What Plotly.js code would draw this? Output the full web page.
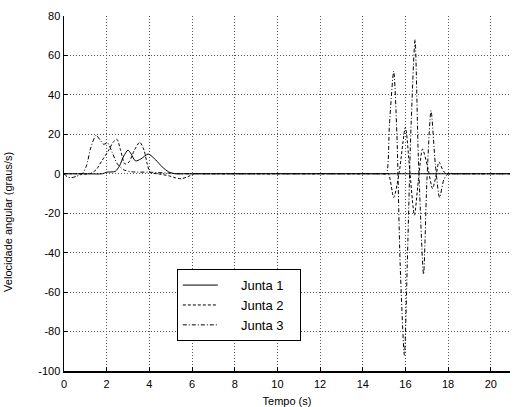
<!DOCTYPE html>
<html>
<head>
<meta charset="utf-8">
<script src="https://cdn.plot.ly/plotly-3.0.1.min.js"></script>
<style>html,body{margin:0;padding:0;background:#fff;}#chart{width:513px;height:407px;}</style>
</head>
<body>
<div id="chart"></div>
<script>
// Junta 1 (solid)
const t1 = [0, 1.0, 1.8, 2.0, 2.4, 2.6, 2.8, 3.0, 3.15, 3.35, 3.6, 3.95, 4.3, 4.6, 4.9, 5.2, 5.6, 8, 12, 16, 20.9];
const v1 = [0, 0, 0, 0.8, 1.2, 4, 9, 12, 10, 6.5, 7.5, 10, 7, 3.5, 1, 0, 0, 0, 0, 0, 0];
// Junta 2 (dashed)
const t2 = [0, 0.6, 1.2, 1.5, 1.8, 2.1, 2.3, 2.48, 2.65, 2.85, 3.05, 3.3, 3.55, 3.75, 3.9, 4.05, 4.4, 4.9, 5.2, 5.5, 5.8, 6.1, 6.5, 8, 12, 14.5,
            15.0, 15.2, 15.45, 15.7, 16.0, 16.2, 16.42, 16.6, 16.8, 17.05, 17.27, 17.45, 17.57, 17.8, 18.0, 18.4, 19.5, 20.9];
const v2 = [0, 0, 0, 2, 7, 12, 16, 17.5, 12, 5, 6, 12, 16, 12, 5, 0.5, 0, -1, -2, -2.5, -1.5, 0, 0, 0, 0, 0,
            0, 0, -12, 0, 23.5, 2, -21, -4, 12.5, 3, -7.5, 0, 6, 1, 0, 0, 0, 0];
// Junta 3 (dash-dot)
const t3 = [0, 0.15, 0.35, 0.6, 0.85, 1.05, 1.25, 1.5, 1.7, 1.85, 2.05, 2.25, 2.5, 2.8, 3.2, 4.0, 5.0, 5.5, 6.0, 8, 12, 14.5,
            14.9, 15.1, 15.25, 15.45, 15.6, 15.75, 15.95, 16.1, 16.25, 16.45, 16.6, 16.85, 17.0, 17.2, 17.4, 17.6, 17.8, 18.0, 18.4, 19.5, 20.9];
const v3 = [0, -1.5, -2, -1.2, 0, 4, 13, 19.5, 17, 15, 15.5, 11, 5, 2, 1, 0.8, 0.3, 0, 0, 0, 0, 0,
            0, 0, 25, 52, 20, -45, -92, -40, 20, 68, 10, -51, -5, 32, 5, -12, -3, 0, 0, 0, 0];

const names = ['Junta 1', 'Junta 2', 'Junta 3'];
const xTicks = [0, 2, 4, 6, 8, 10, 12, 14, 16, 18, 20];
const yTicks = [80, 60, 40, 20, 0, -20, -40, -60, -80, -100];

const pad = '\u00a0\u00a0\u00a0\u00a0\u00a0';
const tail = '\u00a0\u00a0\u00a0';
const font = 'Arial, "Liberation Sans", sans-serif';

const traces = [
  {x: t1, y: v1, name: pad + names[0] + tail, line: {color: '#000', width: 1, dash: 'solid', shape: 'spline', smoothing: 0.7}},
  {x: t2, y: v2, name: pad + names[1] + tail, line: {color: '#000', width: 1, dash: '3px,2px', shape: 'spline', smoothing: 0.7}},
  {x: t3, y: v3, name: pad + names[2] + tail, line: {color: '#000', width: 1, dash: '4px,2px,1px,2px', shape: 'spline', smoothing: 0.7}}
].map(t => Object.assign({type: 'scatter', mode: 'lines'}, t));

const layout = {
  width: 513, height: 407,
  margin: {l: 64, r: 3, t: 16, b: 36},
  paper_bgcolor: '#fff', plot_bgcolor: '#fff',
  font: {family: font, size: 11, color: '#000'},
  showlegend: true,
  legend: {x: 0.253, y: 0.287, xanchor: 'left', yanchor: 'top', bgcolor: '#fff',
           bordercolor: '#000', borderwidth: 1, font: {size: 13, family: font}, itemwidth: 35,
           tracegroupgap: 0},
  xaxis: {range: [0, 20.9], tickvals: xTicks, ticktext: xTicks.map(String), ticks: 'inside', ticklen: 4,
          tickcolor: '#000', showline: true, linecolor: '#000', linewidth: 1.5, mirror: false,
          showgrid: true, gridcolor: '#555', griddash: '1px,2px', gridwidth: 1, zeroline: false,
          ticklabelstandoff: 2,
          title: {text: 'Tempo (s)', font: {size: 11}, standoff: 9}},
  yaxis: {range: [-100, 80], tickvals: yTicks, ticktext: yTicks.map(String), ticks: 'inside', ticklen: 4,
          tickcolor: '#000', showline: true, linecolor: '#000', linewidth: 1.5, mirror: false,
          showgrid: true, gridcolor: '#555', griddash: '1px,2px', gridwidth: 1, zeroline: false},
  annotations: [{text: 'Velocidade angular (graus/s)', textangle: -90, xref: 'paper', yref: 'paper',
                 x: -0.1256, y: 0.42, xanchor: 'center', yanchor: 'middle', showarrow: false,
                 font: {size: 11, family: font}}]
};

Plotly.newPlot('chart', traces, layout, {displayModeBar: false, staticPlot: true});
</script>
</body>
</html>
